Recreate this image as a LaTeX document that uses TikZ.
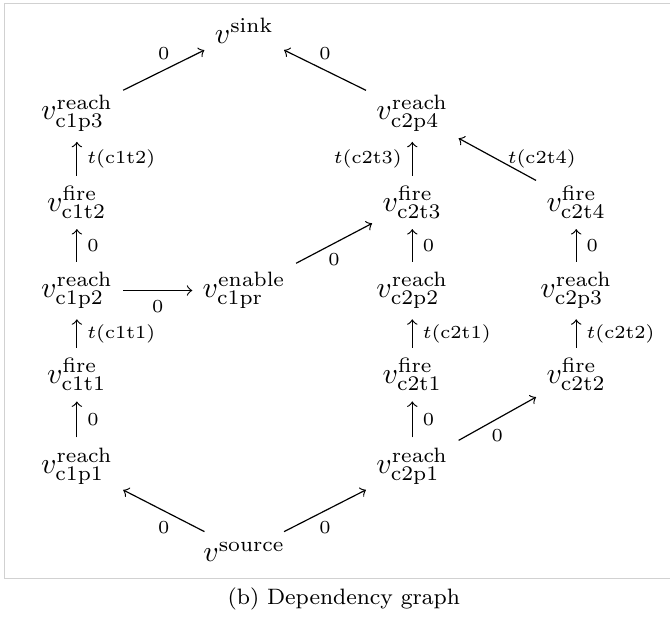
\documentclass[tikz,border=0pt]{standalone}
\usepackage{fix-cm}

\begin{document}
\begin{tikzpicture}[
  vert/.style={anchor=base},
  dep/.style={->,draw=black,line width=0.4pt},
  wt/.style={font=\fontsize{6.2}{7.4}\selectfont},
  panel/.style={draw=black!18,line width=0.4pt},
  captext/.style={font=\fontsize{7.5}{9}\selectfont,anchor=base},
]

\useasboundingbox (0,0) rectangle (7.93,-7.30);
\draw[panel] (0.05,-0.04) rectangle (8.2,-6.85);

\node[vert] (sink) at (2.89,-0.51) {$v^{\mathrm{sink}}$};
\node[vert] (source) at (2.89,-6.65) {$v^{\mathrm{source}}$};
\foreach \n/\k/\x/\y in {c1p3/reach/0.91/-1.42, c2p4/reach/4.88/-1.42,
    c1t2/fire/0.91/-2.50, c2t3/fire/4.88/-2.50, c2t4/fire/6.82/-2.50,
    c1p2/reach/0.91/-3.52, c1pr/enable/2.89/-3.52, c2p2/reach/4.88/-3.52, c2p3/reach/6.82/-3.52,
    c1t1/fire/0.91/-4.54, c2t1/fire/4.88/-4.54, c2t2/fire/6.82/-4.54,
    c1p1/reach/0.91/-5.60, c2p1/reach/4.88/-5.60} {
  \node[vert] (\n) at (\x,\y) {$v^{\mathrm{\k}}_{\mathrm{\n}}$};
}

\foreach \a/\b/\w/\side in {source/c1p1/0/below, source/c2p1/0/below,
    c1p1/c1t1/0/right, c1t1/c1p2/t(\mathrm{c1t1})/right,
    c1p2/c1t2/0/right, c1t2/c1p3/t(\mathrm{c1t2})/right,
    c1p3/sink/0/above, c1p2/c1pr/0/below, c1pr/c2t3/0/below,
    c2p1/c2t1/0/right, c2t1/c2p2/t(\mathrm{c2t1})/right,
    c2p2/c2t3/0/right, c2t3/c2p4/t(\mathrm{c2t3})/left,
    c2p4/sink/0/above, c2p1/c2t2/0/below,
    c2t2/c2p3/t(\mathrm{c2t2})/right, c2p3/c2t4/0/right,
    c2t4/c2p4/t(\mathrm{c2t4})/right} {
  \draw[dep] (\a) -- node[wt,\side] {$\w$} (\b);
}

\node[captext] (cap) at (4.07,-7.16) {(b) Dependency graph};

\end{tikzpicture}
\end{document}
